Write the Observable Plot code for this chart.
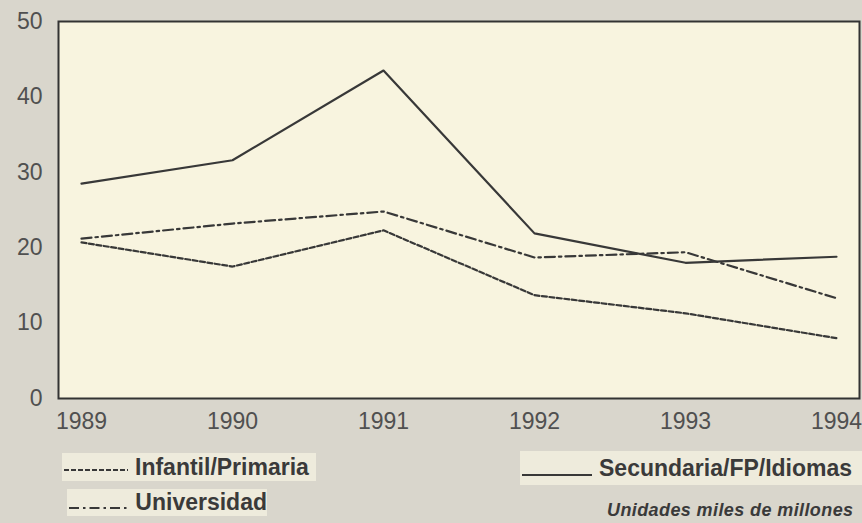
<!DOCTYPE html>
<html>
<head>
<meta charset="utf-8">
<script src="https://cdn.jsdelivr.net/npm/d3@7"></script>
<script src="https://cdn.jsdelivr.net/npm/@observablehq/plot@0.6"></script>
<style>
  html, body { margin: 0; padding: 0; background: #d9d6cc; }
  #wrap { position: relative; width: 862px; height: 523px; overflow: hidden; background: #d9d6cc; font-family: "Liberation Sans", Arial, sans-serif; color: #3c3c3c; }
  .lg { position: absolute; background: #eeebdc; display: flex; align-items: center; font-weight: bold; font-size: 23px; color: #3a3a3a; white-space: nowrap; }
  .lg svg { margin-right: 5px; }
  #unit { position: absolute; left: 607px; top: 500px; font-style: italic; font-weight: bold; font-size: 18px; letter-spacing: 0.4px; color: #3a3a3a; white-space: nowrap; }
</style>
</head>
<body>
<div id="wrap"></div>
<script>
const years = [1989, 1990, 1991, 1992, 1993, 1994];
const infantil = [20.7, 17.5, 22.3, 13.7, 11.3, 8.0];
const universidad = [21.2, 23.2, 24.8, 18.7, 19.4, 13.3];
const secundaria = [28.5, 31.6, 43.5, 21.9, 18.0, 18.8];
const yTicks = [0, 10, 20, 30, 40, 50];
const seriesNames = ["Infantil/Primaria", "Universidad", "Secundaria/FP/Idiomas"];
const unitLabel = "Unidades miles de millones";

const rows = (vals) => years.map((y, i) => ({year: y, value: vals[i]}));
const ink = "#383838";

const chart = Plot.plot({
  width: 862,
  height: 440,
  marginLeft: 58,
  marginRight: 3,
  marginTop: 21,
  marginBottom: 42,
  style: { background: "transparent", fontFamily: "Liberation Sans, Arial, sans-serif", fontSize: "23px", color: "#505050" },
  x: { domain: [1989, 1994], insetLeft: 23, insetRight: 23 },
  y: { domain: [0, 50] },
  marks: [
    Plot.frame({ fill: "#f8f4df", stroke: null }),
    Plot.lineY(rows(infantil), { x: "year", y: "value", stroke: ink, strokeWidth: 2.2, strokeDasharray: "5,2.5" }),
    Plot.lineY(rows(universidad), { x: "year", y: "value", stroke: ink, strokeWidth: 2.2, strokeDasharray: "10,4,2.5,4" }),
    Plot.lineY(rows(secundaria), { x: "year", y: "value", stroke: ink, strokeWidth: 2.2 }),
    Plot.frame({ stroke: "#333", strokeWidth: 2 }),
    Plot.axisX({ ticks: years, tickFormat: d => String(d), tickSize: 0, tickPadding: 14, label: null, fontSize: 23 }),
    Plot.axisY({ ticks: yTicks, tickSize: 0, tickPadding: 16, label: null, fontSize: 23 })
  ]
});

const wrap = document.getElementById("wrap");
wrap.appendChild(chart);
chart.style.position = "absolute";
chart.style.left = "0px";
chart.style.top = "0px";

function legendItem(name, dash, left, top, w, h, sw, ly) {
  const d = document.createElement("div");
  d.className = "lg";
  d.style.left = left + "px";
  d.style.top = top + "px";
  d.style.width = w + "px";
  d.style.height = h + "px";
  const s = d3.create("svg").attr("width", sw).attr("height", 18);
  s.append("line").attr("x1", 2).attr("x2", sw - 2).attr("y1", ly).attr("y2", ly)
    .attr("stroke", ink).attr("stroke-width", 2).attr("stroke-dasharray", dash);
  d.appendChild(s.node());
  const t = document.createElement("span");
  t.textContent = name;
  d.appendChild(t);
  wrap.appendChild(d);
}
legendItem(seriesNames[0], "5,2", 62, 453, 254, 28, 68, 12);
legendItem(seriesNames[1], "10,4,2.5,4", 67, 489, 200, 27, 64, 14);
legendItem(seriesNames[2], null, 520, 451, 342, 34, 74, 16);

const u = document.createElement("div");
u.id = "unit";
u.textContent = unitLabel;
wrap.appendChild(u);
</script>
</body>
</html>
